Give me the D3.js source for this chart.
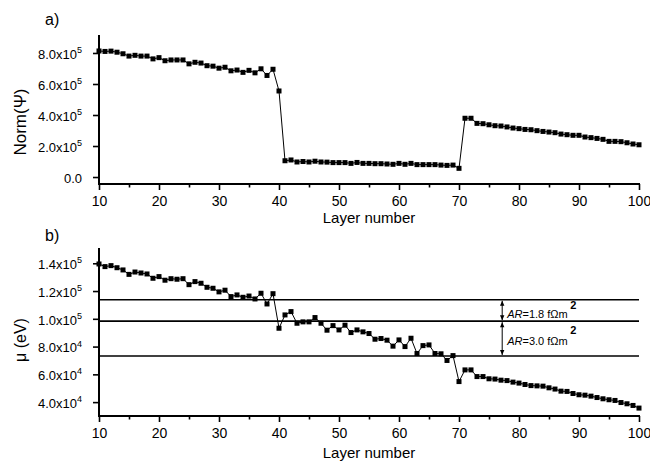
<!DOCTYPE html>
<html><head><meta charset="utf-8">
<script src="https://cdn.jsdelivr.net/npm/d3@7"></script>
<style>
body{margin:0;background:#fff;}
text{font-family:"Liberation Sans",Arial,sans-serif;fill:#000;}
</style></head><body>
<svg id="c" width="650" height="461"></svg>
<script>
// ---- data ----
const layers = d3.range(10, 101);
// Norm(Psi), units of 1e5
const normPsi = [8.13,8.10,8.12,8.05,7.95,7.80,7.85,7.80,7.80,7.62,
 7.70,7.50,7.55,7.55,7.55,7.30,7.40,7.35,7.18,7.15,
 7.02,7.08,6.85,6.90,6.75,6.88,6.72,6.98,6.55,6.95,
 5.55,1.05,1.10,0.97,1.00,0.97,1.02,0.97,0.96,0.93,
 0.93,0.93,0.88,0.94,0.88,0.88,0.86,0.86,0.84,0.82,
 0.88,0.82,0.88,0.80,0.80,0.80,0.80,0.77,0.75,0.77,
 0.56,3.79,3.79,3.46,3.44,3.37,3.31,3.29,3.23,3.16,
 3.12,3.07,3.05,2.99,2.94,2.90,2.86,2.77,2.73,2.69,
 2.69,2.58,2.54,2.49,2.43,2.30,2.30,2.28,2.21,2.13,2.08];
// mu (eV), units of 1e4
const mu = [13.95,13.76,13.83,13.68,13.52,13.20,13.37,13.30,13.23,12.92,
 13.04,12.78,12.89,12.85,12.89,12.46,12.68,12.56,12.27,12.20,
 11.94,12.06,11.60,11.72,11.55,11.64,11.43,11.84,11.07,11.81,
 9.32,10.28,10.52,9.68,9.78,9.78,10.09,9.68,9.18,9.51,
 9.20,9.54,9.01,9.20,9.06,8.94,8.53,8.58,8.46,8.03,
 8.48,8.00,8.60,7.50,8.07,8.12,7.50,7.48,7.00,7.35,
 5.48,6.32,6.32,5.84,5.84,5.68,5.66,5.58,5.55,5.44,
 5.37,5.27,5.19,5.17,5.15,5.03,4.94,4.79,4.77,4.62,
 4.53,4.50,4.43,4.33,4.24,4.17,4.12,3.97,3.88,3.76,3.57];
const refLines = [11.37, 9.83, 7.32];   // units of 1e4
const arrowLayer = 77.2;
const arLabels = ["1.8", "3.0"];
const xTicks = [10,20,30,40,50,60,70,80,90,100];
const topTicks = [0,2,4,6,8];            // units of 1e5
const botTicks = [4,6,8,10,12,14];       // units of 1e4

const svg = d3.select("#c");
const x = d3.scaleLinear().domain([10,100]).range([99,639]);
const yTop = d3.scaleLinear().domain([-0.45,9.16]).range([184,35]);
const yBot = d3.scaleLinear().domain([3.0,15.1]).range([416,248]);

function drawPanel(y, yTicks, fmt, values, axisY, titleTxt, titleY, ylab, ylabY, ylabSize, xlabY){
  const g = svg.append("g");
  // x axis
  const xa = g.append("g").attr("transform",`translate(0,${axisY})`)
    .call(d3.axisBottom(x).tickValues(xTicks).tickSize(6).tickPadding(5).tickFormat(d3.format("d")));
  xa.select(".domain").attr("stroke-width",2).attr("d",`M98,0H640`);
  xa.selectAll(".tick line").attr("stroke-width",1.6);
  xa.selectAll(".tick text").attr("font-size",14).attr("dy","0.8em");
  const xm = g.append("g").attr("transform",`translate(0,${axisY})`)
    .call(d3.axisBottom(x).tickValues(d3.range(15,100,10)).tickSize(3.5).tickFormat(""));
  xm.select(".domain").remove();
  xm.selectAll(".tick line").attr("stroke-width",1.6);
  // y axis
  const ya = g.append("g").attr("transform","translate(99,0)")
    .call(d3.axisLeft(y).tickValues(yTicks).tickSize(6).tickPadding(5).tickFormat(""));
  ya.select(".domain").attr("stroke-width",2).attr("d",`M0,${y.range()[1]}V${axisY+1}`);
  ya.selectAll(".tick line").attr("stroke-width",1.6);
  ya.selectAll(".tick text").remove();
  ya.selectAll(".tick").each(function(d){
    const f = fmt(d);
    const t = d3.select(this).append("text").attr("x",-17).attr("dy","0.4em")
      .attr("text-anchor","end").attr("font-size",13);
    t.text(f[0]);
    if(f[1]){
      t.attr("x",-22);
      d3.select(this).append("text").attr("x",-22).attr("dy","-0.05em")
        .attr("text-anchor","start").attr("font-size",9).text(f[1]);
    }
  });
  // line and markers
  const pts = layers.map((l,i)=>[l, values[i]]);
  g.append("path").datum(pts).attr("fill","none").attr("stroke","#000").attr("stroke-width",1)
    .attr("d", d3.line().x(d=>x(d[0])).y(d=>y(d[1])));
  g.selectAll("rect.m").data(pts).join("rect").attr("class","m")
    .attr("x",d=>x(d[0])-2.5).attr("y",d=>y(d[1])-2.5).attr("width",5).attr("height",5).attr("fill","#000");
  // labels
  g.append("text").attr("x",45).attr("y",titleY).attr("font-size",16).text(titleTxt);
  g.append("text").attr("transform",`translate(26,${ylabY}) rotate(-90)`).attr("text-anchor","middle")
    .attr("font-size",ylabSize).text(ylab);
  g.append("text").attr("x",369).attr("y",xlabY).attr("text-anchor","middle").attr("font-size",15).text("Layer number");
  return g;
}

drawPanel(yTop, topTicks, d => d===0 ? ["0.0",null] : [d.toFixed(1)+"x10","5"],
  normPsi, 184, "a)", 25, "Norm(\u03A8)", 122, 17, 223);
const gb = drawPanel(yBot, botTicks, d => d>=10 ? [(d/10).toFixed(1)+"x10","5"] : [d.toFixed(1)+"x10","4"],
  mu, 416, "b)", 241, "\u03BC (eV)", 340, 16, 458);

// reference lines
gb.selectAll("line.ref").data(refLines).join("line").attr("class","ref")
  .attr("x1",99).attr("x2",639).attr("y1",d=>yBot(d)).attr("y2",d=>yBot(d))
  .attr("stroke","#000").attr("stroke-width",1.6);

// double arrows
const ax = x(arrowLayer);
function dArrow(v1,v2){
  const y1 = yBot(v1)+1, y2 = yBot(v2)-1;
  gb.append("line").attr("x1",ax).attr("x2",ax).attr("y1",y1).attr("y2",y2).attr("stroke","#000").attr("stroke-width",1);
  gb.append("path").attr("d",`M${ax},${y1}l-2.2,5h4.4z`).attr("fill","#000");
  gb.append("path").attr("d",`M${ax},${y2}l-2.2,-5h4.4z`).attr("fill","#000");
}
dArrow(refLines[0],refLines[1]);
dArrow(refLines[1],refLines[2]);

// AR labels
const labY = [[yBot(refLines[0]), yBot(refLines[1])],[yBot(refLines[1]), yBot(refLines[2])]];
labY.forEach((p,i)=>{
  const mid = (p[0]+p[1])/2;
  const t = gb.append("text").attr("x",ax+5).attr("y",mid+ (i===0?8:6)).attr("font-size",11);
  t.append("tspan").attr("font-style","italic").text("AR");
  t.append("tspan").text("="+arLabels[i]+" f\u03A9m");
  gb.append("text").attr("x",ax+68).attr("y",mid+(i===0?-1:-5)).attr("font-size",11).attr("font-weight","bold").text("2");
});
</script>
</body></html>
